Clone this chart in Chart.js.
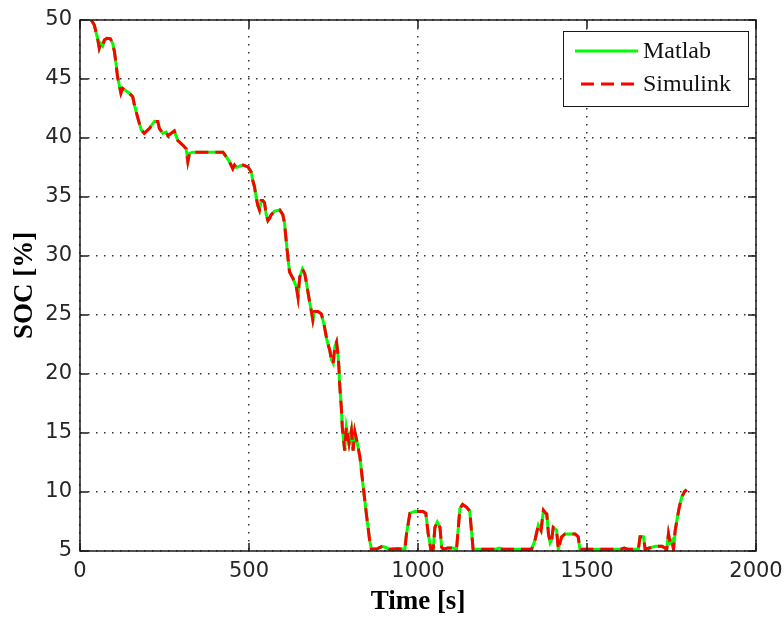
<!DOCTYPE html>
<html>
<head>
<meta charset="utf-8">
<title>SOC</title>
<script src="https://cdn.jsdelivr.net/npm/chart.js@4/dist/chart.umd.min.js"></script>
<style>
  html, body { margin: 0; padding: 0; background: #fff; }
  #wrap { width: 784px; height: 617px; }
</style>
</head>
<body>
<div id="wrap"><canvas id="c" width="784" height="617"></canvas></div>
<script>
// Time stamps [s] of the sampled state-of-charge trace
const timeS = [
  33, 42, 52, 57, 62, 67, 72, 80, 90, 97, 102, 107, 111, 116, 121, 126, 131, 141, 146, 156,
  161, 171, 181, 190, 205, 220, 230, 235, 245, 255, 260, 270, 279, 289, 304, 314, 319, 324, 334, 423,
  433, 442, 452, 457, 462, 470, 482, 497, 507, 511, 516, 521, 526, 531, 536, 541, 546, 551, 556, 561,
  566, 576, 591, 600, 605, 610, 615, 620, 630, 640, 645, 650, 658, 665, 670, 677, 684, 689, 694, 704,
  714, 722, 731, 739, 744, 749, 754, 759, 763, 766, 768, 773, 776, 783, 788, 796, 803, 808, 813, 820,
  828, 837, 847, 857, 862, 880, 895, 905, 915, 940, 961, 966, 976, 990, 1015, 1023, 1030, 1038, 1045, 1050,
  1057, 1065, 1070, 1075, 1088, 1104, 1114, 1124, 1132, 1144, 1153, 1158, 1163, 1230, 1240, 1250, 1336, 1346, 1356, 1364,
  1371, 1378, 1381, 1386, 1391, 1396, 1400, 1410, 1415, 1425, 1435, 1465, 1474, 1479, 1600, 1610, 1620, 1652, 1657, 1667,
  1672, 1702, 1722, 1736, 1741, 1746, 1751, 1756, 1761, 1766, 1773, 1780, 1788, 1795
];

// State of charge [%] from the Matlab model
const socMatlab = [
  50.0, 49.6, 48.45, 47.6, 48.0, 47.8, 48.3, 48.45, 48.4, 48.0, 47.3, 46.2, 45.2, 44.5, 43.8, 44.2, 44.1, 43.9, 43.8, 43.5,
  42.8, 41.7, 40.7, 40.4, 40.8, 41.4, 41.4, 40.8, 40.4, 40.5, 40.2, 40.4, 40.6, 39.8, 39.4, 39.1, 38.0, 38.7, 38.8, 38.8,
  38.4, 38.0, 37.4, 37.7, 37.5, 37.6, 37.7, 37.55, 37.1, 36.4, 35.9, 35.0, 34.3, 33.9, 34.7, 34.7, 34.5, 33.5, 33.0, 33.2,
  33.5, 33.8, 33.9, 33.5, 32.8, 31.3, 29.9, 28.65, 28.1, 27.4, 26.5, 28.2, 28.9, 28.5, 27.7, 26.5, 25.4, 24.55, 25.3, 25.3,
  25.1, 24.2, 22.8, 22.0, 21.2, 20.9, 22.3, 22.7, 21.7, 20.6, 19.2, 17.2, 15.5, 13.5, 15.5, 14.1, 15.2, 13.5, 15.1, 14.2,
  13.0, 10.7, 8.2, 5.9, 5.15, 5.2, 5.4, 5.3, 5.15, 5.2, 5.15, 6.45, 8.2, 8.35, 8.35, 8.2, 6.5, 5.15, 5.15, 7.0,
  7.45, 7.0, 5.3, 5.15, 5.25, 5.25, 5.15, 8.6, 8.95, 8.7, 8.4, 6.8, 5.15, 5.15, 5.25, 5.15, 5.15, 5.9, 7.2, 6.75,
  8.45, 8.2, 8.15, 6.45, 5.7, 6.0, 7.0, 6.75, 5.15, 6.2, 6.45, 6.45, 6.2, 5.15, 5.15, 5.25, 5.15, 5.15, 6.2, 6.2,
  5.15, 5.4, 5.4, 5.15, 6.45, 5.7, 5.9, 5.15, 6.75, 7.6, 8.7, 9.55, 10.0, 10.2
];

// State of charge [%] from the Simulink model (coincides with the Matlab run)
const socSimulink = socMatlab.slice();

const seriesNames = ['Matlab', 'Simulink'];
const xTicks = [0, 500, 1000, 1500, 2000];
const yTicks = [5, 10, 15, 20, 25, 30, 35, 40, 45, 50];

const toPoints = (ys) => timeS.map((t, i) => ({ x: t, y: ys[i] }));

Chart.defaults.font.family = '"DejaVu Sans", sans-serif';
Chart.defaults.color = '#262626';

// Axes box, inward tick marks on all four sides, and a boxed legend
const frameAndLegend = {
  id: 'frameAndLegend',
  afterDraw(chart) {
    const { ctx, chartArea: a, scales } = chart;
    const tl = 8;
    ctx.save();
    ctx.strokeStyle = '#1a1a1a';
    ctx.lineWidth = 1.5;
    ctx.setLineDash([]);
    ctx.strokeRect(a.left, a.top, a.right - a.left, a.bottom - a.top);
    ctx.beginPath();
    xTicks.forEach(v => {
      const px = scales.x.getPixelForValue(v);
      ctx.moveTo(px, a.bottom); ctx.lineTo(px, a.bottom - tl);
      ctx.moveTo(px, a.top); ctx.lineTo(px, a.top + tl);
    });
    yTicks.forEach(v => {
      const py = scales.y.getPixelForValue(v);
      ctx.moveTo(a.left, py); ctx.lineTo(a.left + tl, py);
      ctx.moveTo(a.right, py); ctx.lineTo(a.right - tl, py);
    });
    ctx.stroke();

    // legend
    const bx = 563, by = 31, bw = 185, bh = 75;
    ctx.fillStyle = '#fff';
    ctx.fillRect(bx, by, bw, bh);
    ctx.lineWidth = 1;
    ctx.strokeStyle = '#1a1a1a';
    ctx.strokeRect(bx + 0.5, by + 0.5, bw, bh);
    const rows = [51, 84];
    chart.data.datasets.forEach((ds, i) => {
      const y = rows[i];
      ctx.save();
      ctx.strokeStyle = ds.borderColor;
      ctx.lineWidth = ds.borderWidth;
      ctx.setLineDash(ds.borderDash || []);
      ctx.lineDashOffset = 0;
      ctx.beginPath();
      ctx.moveTo(ds.borderDash ? 581 : 575, y); ctx.lineTo(638, y);
      ctx.stroke();
      ctx.restore();
      ctx.fillStyle = '#111';
      ctx.font = '24px "Liberation Serif", serif';
      ctx.textAlign = 'left';
      ctx.textBaseline = 'middle';
      ctx.fillText(seriesNames[i], 643, y + 1);
    });
    ctx.restore();
  }
};

const gridCommon = {
  color: '#333',
  lineWidth: 1.5,
  drawTicks: false
};

new Chart(document.getElementById('c'), {
  type: 'line',
  data: {
    datasets: [
      {
        label: seriesNames[0],
        data: toPoints(socMatlab),
        borderColor: '#00ff00',
        borderWidth: 3,
        pointRadius: 0,
        tension: 0,
        order: 2
      },
      {
        label: seriesNames[1],
        data: toPoints(socSimulink),
        borderColor: '#ff0000',
        borderWidth: 3,
        borderDash: [13, 7],
        pointRadius: 0,
        tension: 0,
        order: 1
      }
    ]
  },
  options: {
    responsive: false,
    animation: false,
    layout: { padding: { top: 20, right: 28, left: 0, bottom: 0 } },
    plugins: {
      legend: { display: false },
      tooltip: { enabled: false }
    },
    scales: {
      x: {
        type: 'linear',
        min: 0,
        max: 2000,
        afterFit: (s) => { s.height = 66; s.paddingLeft = 0; s.paddingRight = 0; },
        afterBuildTicks: (s) => { s.ticks = xTicks.map(v => ({ value: v })); },
        ticks: { font: { size: 21 }, padding: 8, maxRotation: 0, callback: (v) => String(v) },
        grid: gridCommon,
        border: { display: false, dash: [1.5, 6.5] },
        title: {
          display: true,
          text: 'Time [s]',
          font: { family: '"Liberation Serif", serif', size: 27, weight: 'bold', lineHeight: 1.0 },
          color: '#000',
          padding: { top: 1.5, bottom: 1.5 }
        }
      },
      y: {
        type: 'linear',
        min: 5,
        max: 50,
        afterFit: (s) => { s.width = 80; s.paddingTop = 0; s.paddingBottom = 0; },
        afterBuildTicks: (s) => { s.ticks = yTicks.map(v => ({ value: v })); },
        ticks: { font: { size: 21 }, padding: 8, callback: (v) => String(v) },
        grid: gridCommon,
        border: { display: false, dash: [1.5, 6.5] },
        title: {
          display: true,
          text: 'SOC [%]',
          font: { family: '"Liberation Serif", serif', size: 27, weight: 'bold', lineHeight: 1.2 },
          color: '#000',
          padding: { top: 9, bottom: 9 }
        }
      }
    }
  },
  plugins: [frameAndLegend]
});
</script>
</body>
</html>
